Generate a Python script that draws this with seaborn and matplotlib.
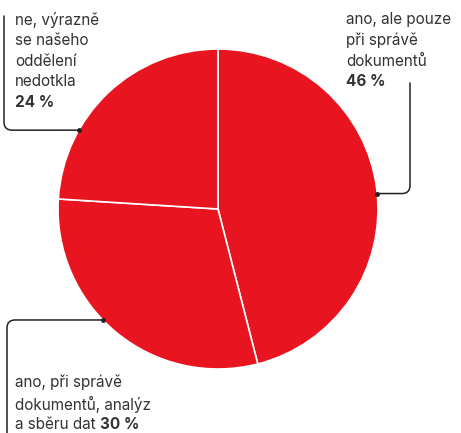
import numpy as np
import matplotlib
matplotlib.use("Agg")
import matplotlib.pyplot as plt
import seaborn as sns

# Data
labels = ["ano, ale pouze\npři správě\ndokumentů",
          "ano, při správě\ndokumentů, analýz\na sběru dat",
          "ne, výrazně\nse našeho\noddělení\nnedotkla"]
shares = [46, 30, 24]
pcts = ["46 %", "30 %", "24 %"]

sns.set_theme(style="white")
plt.rcParams['font.family'] = ['Inter', 'DejaVu Sans']

red = '#E8141F'
txt = '#333333'
W, H = 461, 433

fig = plt.figure(figsize=(W / 100, H / 100), dpi=100)
ax = fig.add_axes([0, 0, 1, 1])

cx, cy, r = 218, H - 209, 160
wedges, _ = ax.pie(shares, colors=[red] * 3, startangle=90, counterclock=False,
                   center=(cx, cy), radius=r, frame=True,
                   wedgeprops=dict(edgecolor='white', linewidth=1.2))
ax.set_xlim(0, W)
ax.set_ylim(0, H)
ax.set_aspect('equal')
ax.axis('off')

# anchor angle inside each wedge (fraction of wedge span)
frac = [0.49, 0.44, 0.70]
anchors = []
for w, f in zip(wedges, frac):
    a = np.deg2rad(w.theta1 + f * (w.theta2 - w.theta1))
    anchors.append((cx + r * np.cos(a), cy + r * np.sin(a)))

fs = 11
ls = 1.45
# label 46 %
t = ax.text(346, H - 12, labels[0], fontsize=fs, color=txt, va='top', ha='left', linespacing=ls)
ax.annotate(pcts[0], xy=(0, 0), xycoords=t, xytext=(0, -4), textcoords='offset points',
            fontsize=fs, fontweight='bold', color=txt, va='top', ha='left')
# label 24 %
t = ax.text(15, H - 12, labels[2], fontsize=fs, color=txt, va='top', ha='left', linespacing=ls)
ax.annotate(pcts[2], xy=(0, 0), xycoords=t, xytext=(0, -4), textcoords='offset points',
            fontsize=fs, fontweight='bold', color=txt, va='top', ha='left')
# label 30 %
l1, l2, l3 = labels[1].split("\n")
t = ax.text(15, H - 432, l3, fontsize=fs, color=txt, va='bottom', ha='left')
ax.text(15, H - 432 + 19, l1 + "\n" + l2, fontsize=fs, color=txt, va='bottom', ha='left', linespacing=ls)
ax.annotate(pcts[1], xy=(1, 0), xycoords=t, xytext=(3, 0), textcoords='offset points',
            fontsize=fs, fontweight='bold', color=txt, va='bottom', ha='left')

# leader lines
starts = [(410, H - 83), (7, H - 433), (4, H - 16)]
for (sx, sy), (axx, ayy) in zip(starts, anchors):
    ax.annotate("", xy=(axx, ayy), xytext=(sx, sy),
                arrowprops=dict(arrowstyle='-', color='#222222', lw=1.1,
                                shrinkA=0, shrinkB=0,
                                connectionstyle="angle,angleA=90,angleB=0,rad=8"))
    ax.plot(axx, ayy, 'o', color='#222222', markersize=2.5)

fig.savefig("out.png", dpi=100)
